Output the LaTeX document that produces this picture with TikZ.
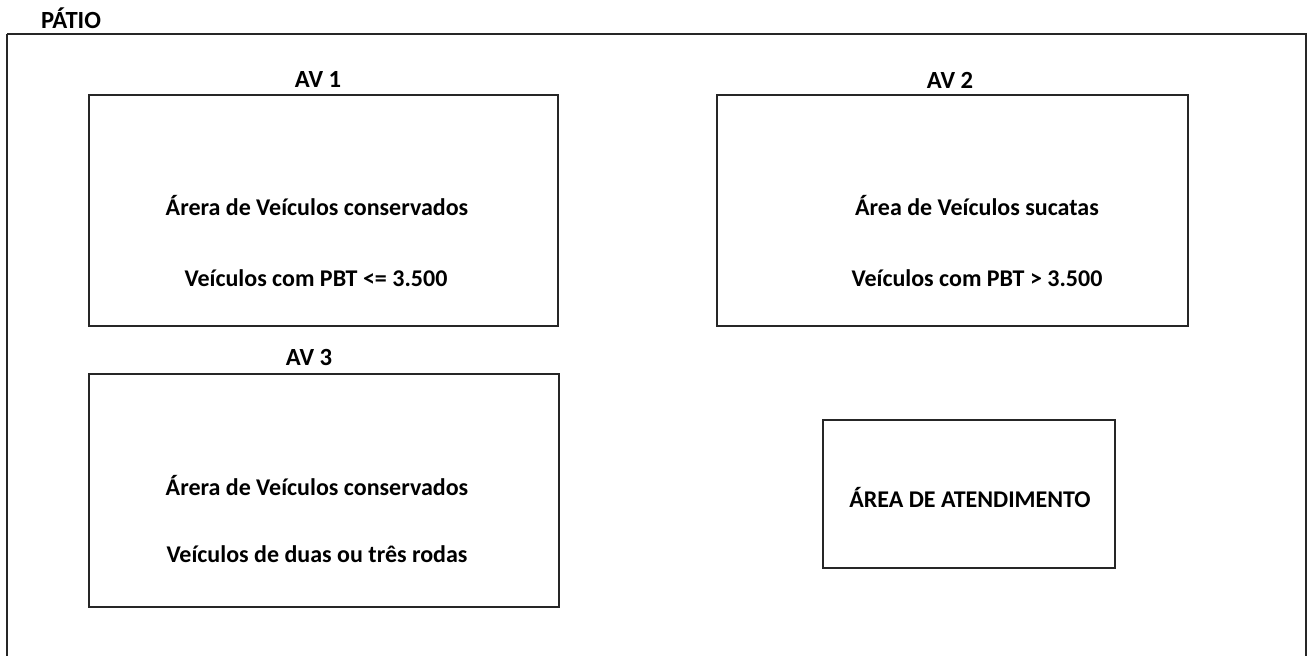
\documentclass[tikz,border=0pt]{standalone}
\usepackage{fontspec}
\setmainfont{Carlito}
\begin{document}
\begin{tikzpicture}[x=0.75pt,y=-0.75pt,
  area/.style={draw=black!85,line width=1.5pt,fill=none},
  txt/.style={font=\bfseries\fontsize{18}{21}\selectfont,inner sep=0pt,anchor=center},
  lbl/.style={font=\bfseries\fontsize{18.5}{21}\selectfont,inner sep=0pt,anchor=center}]
\useasboundingbox (0,0) rectangle (1309,656);
\fill[white] (0,0) rectangle (1309,656);
% outer yard
\draw[area] (7,34) -- (1306,34) -- (1306,670) (7,34) -- (7,670);
\node[lbl] (patio) at (71,18) {PÁTIO};
% AV1
\draw[area] (89,95) rectangle (558,326);
\node[lbl] (av1) at (318,79) {AV 1};
\node[txt] (av1a) at (317,206) {Árera de Veículos conservados};
\node[txt] (av1b) at (316,278) {Veículos com PBT <= 3.500};
% AV2
\draw[area] (717,95) rectangle (1188,326);
\node[lbl] (av2) at (950,80) {AV 2};
\node[txt] (av2a) at (977,206) {Área de Veículos sucatas};
\node[txt] (av2b) at (977,278) {Veículos com PBT > 3.500};
% AV3
\draw[area] (89,374) rectangle (559,607);
\node[lbl] (av3) at (309,357) {AV 3};
\node[txt] (av3a) at (317,486) {Árera de Veículos conservados};
\node[txt] (av3b) at (317,554) {Veículos de duas ou três rodas};
% Atendimento
\draw[area] (823,420) rectangle (1115,568);
\node[txt] (atend) at (970,497) {ÁREA DE ATENDIMENTO};
\end{tikzpicture}
\end{document}
